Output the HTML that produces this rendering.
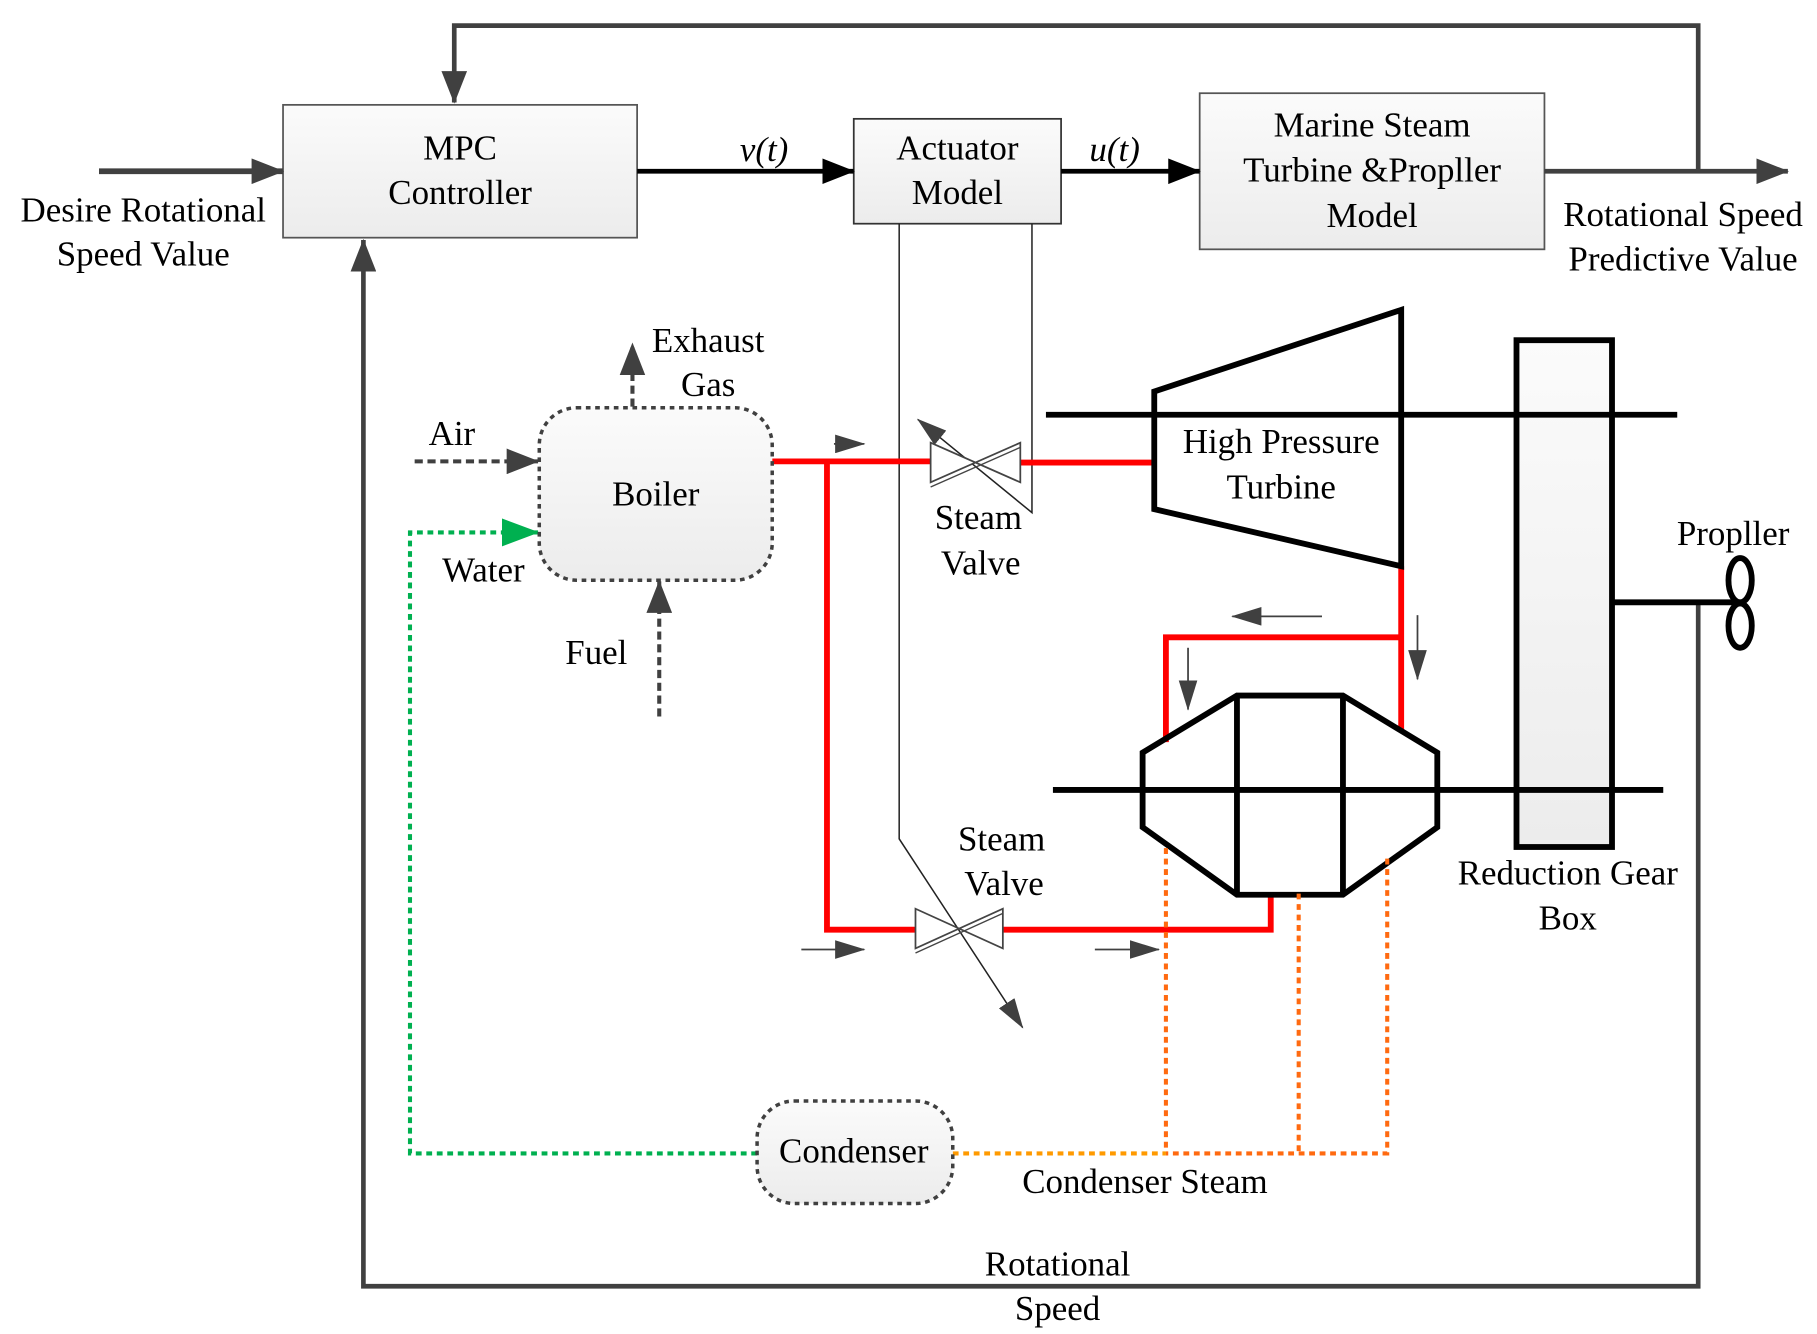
<!DOCTYPE html>
<html><head><meta charset="utf-8"><style>html,body{margin:0;padding:0;background:#fff;}svg{display:block;}svg text{font-family:"Liberation Serif","Times New Roman",Times,"Noto Serif CJK SC","DejaVu Serif",serif;font-size:30px;}</style></head>
<body>
<svg width="1817" height="1334" viewBox="0 0 1560 1145" preserveAspectRatio="none" xmlns="http://www.w3.org/2000/svg" text-anchor="middle">
<defs>
<linearGradient id="g" x1="0" y1="0" x2="0" y2="1"><stop offset="0" stop-color="#fbfbfb"/><stop offset="1" stop-color="#ececec"/></linearGradient>
<marker id="ab" markerWidth="28" markerHeight="22" refX="27" refY="11" orient="auto" markerUnits="userSpaceOnUse"><path d="M0,0L28,11L0,22z" fill="#404040"/></marker>
<marker id="ak" markerWidth="28" markerHeight="22" refX="27" refY="11" orient="auto" markerUnits="userSpaceOnUse"><path d="M0,0L28,11L0,22z" fill="#000"/></marker>
<marker id="ag" markerWidth="32" markerHeight="24" refX="31" refY="12" orient="auto" markerUnits="userSpaceOnUse"><path d="M0,0L32,12L0,24z" fill="#00b050"/></marker>
<marker id="as" markerWidth="26" markerHeight="16" refX="25" refY="8" orient="auto" markerUnits="userSpaceOnUse"><path d="M0,0L26,8L0,16z" fill="#404040"/></marker>
</defs>

<polyline points="1458,147 1458,22 390,22 390,88" fill="none" stroke="#404040" stroke-width="4" marker-end="url(#ab)"/>
<polyline points="1458,517 1458,1104 312,1104 312,206" fill="none" stroke="#404040" stroke-width="4" marker-end="url(#ab)"/>

<rect x="243" y="90" width="304" height="114" fill="url(#g)" stroke="#555" stroke-width="1.5"/>
<text x="395" y="137">MPC</text><text x="395" y="175">Controller</text>
<rect x="733" y="102" width="178" height="90" fill="url(#g)" stroke="#333" stroke-width="1.5"/>
<text x="822" y="137">Actuator</text><text x="822" y="175">Model</text>
<rect x="1030" y="80" width="296" height="134" fill="url(#g)" stroke="#555" stroke-width="1.5"/>
<text x="1178" y="117">Marine Steam</text><text x="1178" y="156">Turbine &amp;Propller</text><text x="1178" y="195">Model</text>

<line x1="85" y1="147" x2="243" y2="147" stroke="#404040" stroke-width="5" marker-end="url(#ab)"/>
<text x="123" y="190">Desire Rotational</text><text x="123" y="228">Speed Value</text>
<line x1="547" y1="147" x2="733" y2="147" stroke="#000" stroke-width="4" marker-end="url(#ak)"/>
<text x="656" y="138" font-style="italic">v(t)</text>
<line x1="911" y1="147" x2="1030" y2="147" stroke="#000" stroke-width="4" marker-end="url(#ak)"/>
<text x="957" y="138" font-style="italic">u(t)</text>
<line x1="1326" y1="147" x2="1535" y2="147" stroke="#404040" stroke-width="4" marker-end="url(#ab)"/>
<text x="1445" y="194">Rotational Speed</text><text x="1445" y="232">Predictive Value</text>

<polyline points="772,192 772,720 878,882" fill="none" stroke="#222" stroke-width="1.3" marker-end="url(#as)"/>
<polyline points="886,192 886,440 788,360" fill="none" stroke="#222" stroke-width="1.3" marker-end="url(#as)"/>

<line x1="898" y1="356" x2="1440" y2="356" stroke="#000" stroke-width="5"/>
<line x1="904" y1="678" x2="1428" y2="678" stroke="#000" stroke-width="5"/>
<rect x="1302" y="292" width="82" height="435" fill="url(#g)" stroke="#000" stroke-width="5"/>
<line x1="1302" y1="356" x2="1384" y2="356" stroke="#000" stroke-width="5"/>
<line x1="1302" y1="678" x2="1384" y2="678" stroke="#000" stroke-width="5"/>
<text x="1346" y="759">Reduction Gear</text><text x="1346" y="798">Box</text>
<line x1="1385" y1="517" x2="1490" y2="517" stroke="#000" stroke-width="5"/>
<ellipse cx="1494" cy="498" rx="10" ry="19" fill="none" stroke="#000" stroke-width="5"/>
<ellipse cx="1494" cy="537" rx="10" ry="19" fill="none" stroke="#000" stroke-width="5"/>
<text x="1488" y="468">Propller</text>

<g fill="none" stroke="#ff0000" stroke-width="5">
<polyline points="663,396 799,396"/>
<polyline points="876,397 990,397"/>
<polyline points="710,396 710,798 786,798"/>
<polyline points="861,798 1091,798 1091,767"/>
<polyline points="1203,486 1203,628"/>
<polyline points="1203,547 1001,547 1001,637"/>
</g>

<polygon points="991,336 1203,266 1203,486 991,437" fill="none" stroke="#000" stroke-width="5"/>
<text x="1100" y="389">High Pressure</text><text x="1100" y="428">Turbine</text>
<polygon points="981,646 1062,597 1153,597 1234,646 1234,710 1153,768 1062,768 981,710" fill="none" stroke="#000" stroke-width="5"/>
<line x1="1062" y1="597" x2="1062" y2="768" stroke="#000" stroke-width="5"/>
<line x1="1153" y1="597" x2="1153" y2="768" stroke="#000" stroke-width="5"/>

<g fill="#fff" stroke="#444" stroke-width="1.5">
<polygon points="799,380 876,414 876,380 799,414"/>
<polygon points="786,780 861,814 861,780 786,814"/>
</g>
<line x1="799" y1="418" x2="876" y2="384" stroke="#444" stroke-width="1.2"/>
<line x1="786" y1="818" x2="861" y2="784" stroke="#444" stroke-width="1.2"/>
<text x="840" y="454">Steam</text><text x="842" y="493">Valve</text>
<text x="860" y="730">Steam</text><text x="862" y="768">Valve</text>

<g stroke="#404040" stroke-width="1.5">
<line x1="716" y1="381" x2="742" y2="381" marker-end="url(#as)"/>
<line x1="1135" y1="529" x2="1058" y2="529" marker-end="url(#as)"/>
<line x1="1217" y1="528" x2="1217" y2="583" marker-end="url(#as)"/>
<line x1="1020" y1="556" x2="1020" y2="609" marker-end="url(#as)"/>
<line x1="688" y1="815" x2="742" y2="815" marker-end="url(#as)"/>
<line x1="940" y1="815" x2="995" y2="815" marker-end="url(#as)"/>
</g>

<g fill="none" stroke="#ff6a10" stroke-width="3.5" stroke-dasharray="5,4">
<polyline points="1001,728 1001,990"/>
<polyline points="1115,767 1115,990"/>
<polyline points="1191,737 1191,990 1001,990"/>
</g>
<line x1="818" y1="990" x2="1001" y2="990" stroke="#ff9a00" stroke-width="3.5" stroke-dasharray="5,4"/>
<text x="983" y="1024">Condenser Steam</text>

<polyline points="650,990 352,990 352,457 462,457" fill="none" stroke="#00b050" stroke-width="3.5" stroke-dasharray="5,4" marker-end="url(#ag)"/>

<rect x="650" y="945" width="168" height="88" rx="32" fill="url(#g)" stroke="#404040" stroke-width="3" stroke-dasharray="4,4"/>
<text x="733" y="998">Condenser</text>

<rect x="463" y="350" width="200" height="148" rx="32" fill="url(#g)" stroke="#404040" stroke-width="3" stroke-dasharray="4,4"/>
<text x="563" y="434">Boiler</text>
<line x1="356" y1="396" x2="462" y2="396" stroke="#404040" stroke-width="3.5" stroke-dasharray="7,4" marker-end="url(#ab)"/>
<text x="388" y="382">Air</text>
<text x="415" y="499">Water</text>
<line x1="566" y1="615" x2="566" y2="499" stroke="#404040" stroke-width="3.5" stroke-dasharray="7,4" marker-end="url(#ab)"/>
<text x="512" y="570">Fuel</text>
<line x1="543" y1="349" x2="543" y2="295" stroke="#404040" stroke-width="3.5" stroke-dasharray="7,4" marker-end="url(#ab)"/>
<text x="608" y="302">Exhaust</text><text x="608" y="340">Gas</text>

<text x="908" y="1095">Rotational</text><text x="908" y="1133">Speed</text>
</svg>
</body></html>
